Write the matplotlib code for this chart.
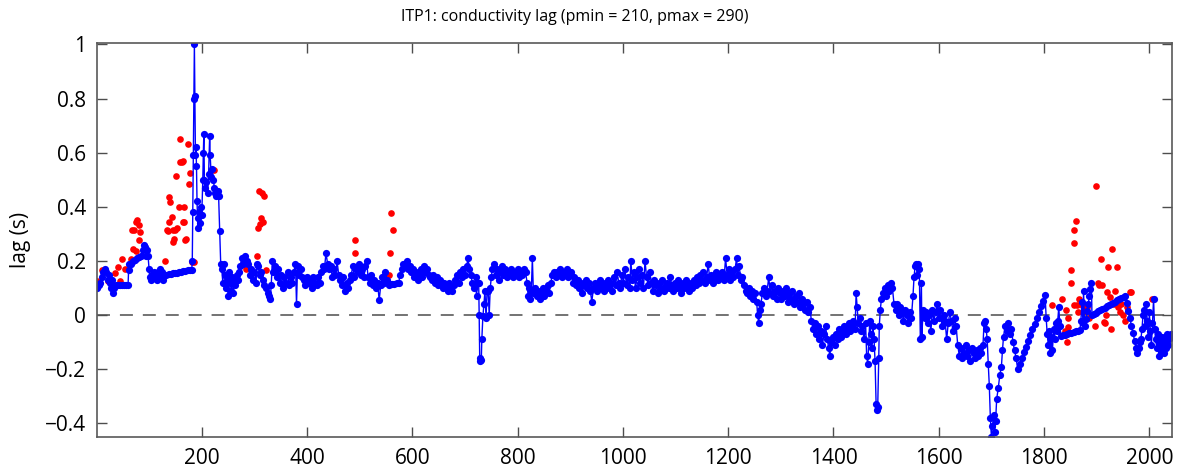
import numpy as np
import matplotlib.pyplot as plt

plt.rcParams['font.family'] = ['Open Sans', 'DejaVu Sans']

# cleaned lag series (blue)
profile = [
    1, 4, 7, 10, 13, 16, 19, 22, 24, 26, 28, 30, 32, 34, 37,
    41, 45, 49, 53, 57, 60, 61, 62, 65, 69, 73, 77, 81, 85, 88,
    90, 92, 94, 96, 98, 100, 101, 103, 105, 107, 109, 111, 113, 115, 117,
    119, 121, 123, 125, 127, 129, 133, 137, 141, 145, 149, 153, 157, 161, 165,
    169, 173, 177, 181, 182, 183, 184, 185, 186, 187, 188, 189, 190, 191, 192,
    193, 194, 196, 198, 200, 202, 203, 204, 205, 207, 209, 211, 213, 215, 216,
    218, 220, 222, 224, 226, 228, 230, 232, 234, 236, 238, 240, 242, 244, 246,
    248, 250, 252, 254, 256, 258, 260, 262, 264, 266, 268, 270, 273, 276, 279,
    282, 285, 288, 291, 294, 297, 300, 303, 305, 307, 310, 313, 316, 319, 322,
    325, 328, 330, 332, 334, 336, 339, 342, 345, 348, 351, 354, 357, 360, 363,
    366, 369, 372, 375, 378, 380, 382, 385, 388, 391, 394, 397, 400, 403, 406,
    409, 412, 415, 418, 421, 424, 427, 430, 433, 436, 439, 442, 445, 448, 451,
    454, 457, 460, 463, 466, 469, 472, 475, 478, 481, 484, 487, 490, 493, 496,
    499, 502, 505, 508, 511, 513, 516, 519, 522, 525, 528, 531, 534, 537, 540,
    543, 546, 549, 552, 555, 558, 562, 566, 570, 574, 577, 580, 583, 586, 589,
    592, 595, 598, 601, 604, 607, 610, 613, 616, 619, 622, 625, 628, 631, 634,
    637, 640, 643, 646, 649, 652, 655, 658, 661, 664, 667, 670, 673, 676, 679,
    682, 685, 688, 691, 694, 697, 700, 703, 706, 708, 711, 714, 717, 720, 722,
    724, 726, 727, 728, 729, 731, 732, 734, 736, 738, 740, 742, 744, 746, 748,
    750, 752, 755, 758, 761, 764, 767, 770, 773, 776, 779, 782, 785, 788, 791,
    794, 797, 800, 803, 806, 809, 812, 815, 818, 820, 822, 824, 826, 828, 830,
    833, 836, 839, 842, 845, 848, 851, 854, 857, 860, 863, 866, 869, 872, 875,
    878, 881, 884, 887, 890, 893, 896, 899, 902, 905, 908, 911, 914, 917, 920,
    923, 926, 929, 932, 935, 938, 941, 944, 947, 950, 953, 956, 959, 962, 965,
    968, 971, 974, 977, 980, 983, 986, 989, 992, 995, 998, 1001, 1004, 1007, 1010,
    1013, 1015, 1018, 1021, 1024, 1027, 1030, 1033, 1036, 1039, 1042, 1045, 1048, 1051, 1054,
    1057, 1060, 1063, 1066, 1069, 1072, 1075, 1078, 1081, 1084, 1087, 1090, 1093, 1096, 1099,
    1102, 1105, 1108, 1111, 1114, 1117, 1120, 1123, 1126, 1129, 1132, 1135, 1138, 1141, 1144,
    1147, 1150, 1153, 1156, 1159, 1162, 1165, 1168, 1171, 1174, 1177, 1180, 1183, 1186, 1189,
    1192, 1195, 1198, 1201, 1204, 1207, 1210, 1213, 1216, 1218, 1221, 1224, 1227, 1230, 1233,
    1236, 1239, 1242, 1245, 1248, 1251, 1254, 1256, 1258, 1260, 1262, 1265, 1268, 1271, 1274,
    1277, 1280, 1283, 1286, 1289, 1292, 1295, 1298, 1301, 1304, 1307, 1310, 1313, 1316, 1319,
    1322, 1325, 1328, 1331, 1334, 1337, 1340, 1343, 1346, 1349, 1352, 1355, 1358, 1361, 1364,
    1367, 1370, 1373, 1376, 1379, 1382, 1385, 1388, 1391, 1393, 1396, 1399, 1402, 1405, 1408,
    1411, 1414, 1417, 1420, 1423, 1426, 1429, 1432, 1435, 1438, 1441, 1443, 1445, 1447, 1450,
    1452, 1455, 1458, 1461, 1463, 1465, 1467, 1469, 1471, 1473, 1475, 1477, 1479, 1481, 1482,
    1484, 1486, 1487, 1489, 1491, 1494, 1497, 1500, 1503, 1506, 1509, 1512, 1515, 1518, 1521,
    1524, 1527, 1530, 1533, 1536, 1539, 1542, 1545, 1548, 1551, 1553, 1555, 1557, 1559, 1561,
    1563, 1565, 1567, 1568, 1570, 1573, 1576, 1579, 1582, 1585, 1588, 1591, 1594, 1597, 1600,
    1603, 1606, 1609, 1612, 1615, 1618, 1621, 1624, 1627, 1630, 1633, 1636, 1639, 1642, 1645,
    1648, 1651, 1654, 1657, 1660, 1663, 1666, 1669, 1672, 1675, 1678, 1681, 1684, 1686, 1688,
    1690, 1692, 1694, 1696, 1698, 1700, 1702, 1704, 1706, 1708, 1710, 1713, 1716, 1719, 1721,
    1723, 1726, 1729, 1732, 1735, 1738, 1741, 1744, 1747, 1750, 1754, 1758, 1762, 1766, 1770,
    1774, 1778, 1782, 1786, 1790, 1794, 1798, 1802, 1804, 1806, 1808, 1810, 1812, 1814, 1816,
    1818, 1820, 1822, 1824, 1826, 1828, 1830, 1832, 1836, 1840, 1844, 1848, 1852, 1856, 1860,
    1864, 1868, 1870, 1872, 1874, 1875, 1877, 1880, 1882, 1884, 1886, 1888, 1890, 1891, 1895,
    1899, 1903, 1907, 1911, 1915, 1919, 1923, 1927, 1931, 1935, 1939, 1943, 1947, 1951, 1954,
    1957, 1960, 1963, 1966, 1969, 1972, 1975, 1977, 1980, 1982, 1984, 1986, 1988, 1990, 1992,
    1994, 1996, 1998, 2000, 2002, 2004, 2006, 2008, 2010, 2012, 2014, 2016, 2018, 2020, 2022,
    2024, 2026, 2028, 2030, 2032, 2034, 2036, 2038, 2040, 2042,
]
lag = [
    0.10, 0.11, 0.12, 0.14, 0.16, 0.17, 0.16, 0.13, 0.15, 0.12, 0.10, 0.13, 0.08, 0.10, 0.11,
    0.11, 0.11, 0.11, 0.11, 0.11, 0.11, 0.165, 0.19, 0.19, 0.20, 0.205, 0.21, 0.215, 0.22, 0.24,
    0.26, 0.25, 0.22, 0.24, 0.22, 0.17, 0.14, 0.13, 0.15, 0.14, 0.16, 0.14, 0.15, 0.13, 0.16,
    0.15, 0.17, 0.14, 0.16, 0.13, 0.15, 0.150, 0.151, 0.153, 0.154, 0.156, 0.157, 0.159, 0.160, 0.162,
    0.163, 0.165, 0.166, 0.168, 0.20, 0.38, 0.59, 0.80, 1.00, 0.81, 0.59, 0.62, 0.55, 0.42, 0.36,
    0.32, 0.38, 0.34, 0.40, 0.37, 0.50, 0.60, 0.67, 0.50, 0.47, 0.49, 0.45, 0.52, 0.66, 0.59,
    0.51, 0.54, 0.50, 0.47, 0.45, 0.44, 0.46, 0.44, 0.31, 0.19, 0.17, 0.12, 0.19, 0.15, 0.10,
    0.13, 0.07, 0.16, 0.12, 0.09, 0.14, 0.08, 0.13, 0.11, 0.15, 0.13, 0.16, 0.18, 0.21, 0.19,
    0.22, 0.20, 0.19, 0.15, 0.17, 0.13, 0.16, 0.12, 0.19, 0.18, 0.15, 0.16, 0.13, 0.11, 0.10,
    0.08, 0.07, 0.06, 0.11, 0.20, 0.16, 0.18, 0.14, 0.17, 0.12, 0.15, 0.10, 0.14, 0.12, 0.16,
    0.11, 0.14, 0.12, 0.16, 0.19, 0.04, 0.18, 0.15, 0.17, 0.14, 0.13, 0.11, 0.14, 0.12, 0.13,
    0.10, 0.14, 0.12, 0.11, 0.14, 0.12, 0.16, 0.18, 0.17, 0.23, 0.19, 0.17, 0.18, 0.14, 0.17,
    0.15, 0.20, 0.15, 0.13, 0.11, 0.14, 0.09, 0.12, 0.10, 0.13, 0.15, 0.18, 0.14, 0.17, 0.16,
    0.19, 0.15, 0.17, 0.14, 0.18, 0.20, 0.14, 0.12, 0.15, 0.11, 0.13, 0.10, 0.12, 0.055, 0.11,
    0.14, 0.12, 0.16, 0.13, 0.11, 0.115, 0.115, 0.115, 0.12, 0.12, 0.15, 0.17, 0.19, 0.18, 0.20,
    0.17, 0.18, 0.16, 0.17, 0.14, 0.16, 0.13, 0.15, 0.17, 0.14, 0.18, 0.16, 0.17, 0.15, 0.14,
    0.13, 0.15, 0.12, 0.14, 0.11, 0.13, 0.12, 0.10, 0.12, 0.11, 0.09, 0.12, 0.10, 0.09, 0.11,
    0.13, 0.15, 0.12, 0.16, 0.14, 0.17, 0.15, 0.18, 0.21, 0.17, 0.15, 0.12, 0.10, 0.14, 0.07,
    0.12, 0.12, 0.00, -0.16, -0.17, -0.165, -0.09, -0.005, 0.04, 0.09, -0.01, 0.09, 0.09, 0.00, 0.10,
    0.14, 0.17, 0.19, 0.15, 0.17, 0.13, 0.16, 0.18, 0.15, 0.17, 0.14, 0.16, 0.15, 0.17, 0.14,
    0.16, 0.15, 0.17, 0.14, 0.16, 0.15, 0.17, 0.16, 0.12, 0.07, 0.10, 0.06, 0.09, 0.21, 0.08,
    0.10, 0.07, 0.09, 0.06, 0.08, 0.10, 0.07, 0.09, 0.11, 0.08, 0.12, 0.15, 0.16, 0.14, 0.16,
    0.15, 0.17, 0.14, 0.16, 0.15, 0.17, 0.14, 0.15, 0.16, 0.12, 0.14, 0.11, 0.13, 0.10, 0.12,
    0.08, 0.11, 0.13, 0.10, 0.12, 0.09, 0.05, 0.10, 0.12, 0.09, 0.11, 0.13, 0.10, 0.12, 0.09,
    0.11, 0.13, 0.10, 0.12, 0.09, 0.14, 0.11, 0.16, 0.12, 0.10, 0.15, 0.12, 0.17, 0.11, 0.14,
    0.10, 0.20, 0.13, 0.16, 0.10, 0.14, 0.17, 0.12, 0.15, 0.10, 0.20, 0.14, 0.11, 0.16, 0.12,
    0.09, 0.13, 0.11, 0.08, 0.12, 0.10, 0.13, 0.09, 0.11, 0.12, 0.10, 0.14, 0.11, 0.09, 0.12,
    0.10, 0.13, 0.11, 0.08, 0.12, 0.10, 0.13, 0.11, 0.09, 0.12, 0.10, 0.13, 0.11, 0.14, 0.12,
    0.15, 0.13, 0.16, 0.12, 0.14, 0.19, 0.13, 0.15, 0.12, 0.14, 0.16, 0.13, 0.15, 0.14, 0.16,
    0.13, 0.21, 0.15, 0.17, 0.13, 0.16, 0.14, 0.17, 0.21, 0.15, 0.18, 0.13, 0.14, 0.11, 0.09,
    0.08, 0.10, 0.07, 0.09, 0.06, 0.08, 0.05, 0.00, -0.03, 0.02, 0.04, 0.08, 0.10, 0.07, 0.09,
    0.14, 0.08, 0.11, 0.07, 0.09, 0.06, 0.10, 0.08, 0.06, 0.09, 0.07, 0.10, 0.05, 0.08, 0.06,
    0.09, 0.04, 0.07, 0.05, 0.08, 0.03, 0.06, 0.04, 0.02, 0.05, 0.01, 0.03, -0.02, -0.05, -0.03,
    -0.07, -0.04, -0.09, -0.06, -0.11, -0.07, -0.04, -0.09, -0.12, -0.15, -0.10, -0.08, -0.11, -0.07, -0.09,
    -0.05, -0.08, -0.06, -0.04, -0.07, -0.05, -0.03, -0.06, -0.04, -0.02, -0.05, 0.08, 0.03, -0.03, -0.01,
    -0.06, -0.04, -0.09, -0.03, -0.15, -0.18, -0.10, -0.02, -0.07, -0.12, -0.04, -0.09, -0.17, -0.33, -0.35,
    -0.34, -0.16, -0.04, 0.02, 0.06, 0.08, 0.10, 0.07, 0.11, 0.09, 0.12, 0.10, 0.04, 0.02, 0.04,
    0.00, 0.03, 0.01, -0.02, 0.02, 0.00, -0.03, 0.01, -0.01, 0.07, 0.14, 0.18, 0.19, 0.15, 0.19,
    0.17, -0.09, 0.12, -0.08, 0.02, -0.01, 0.01, -0.03, 0.00, -0.06, 0.02, -0.02, 0.01, 0.04, -0.01,
    0.02, -0.04, 0.00, -0.02, -0.09, -0.03, 0.01, -0.02, -0.06, -0.01, -0.04, -0.11, -0.15, -0.12, -0.16,
    -0.14, -0.11, -0.15, -0.13, -0.17, -0.12, -0.14, -0.16, -0.13, -0.15, -0.12, -0.14, -0.11, -0.03, -0.02,
    -0.05, -0.09, -0.18, -0.26, -0.38, -0.45, -0.41, -0.37, -0.43, -0.39, -0.31, -0.27, -0.22, -0.19, -0.13,
    -0.08, -0.04, -0.06, -0.03, -0.07, -0.05, -0.10, -0.13, -0.16, -0.20, -0.179, -0.158, -0.137, -0.116, -0.095,
    -0.074, -0.053, -0.031, -0.010, 0.011, 0.032, 0.053, 0.074, -0.01, -0.07, -0.11, -0.06, -0.14, -0.08, -0.13,
    -0.05, -0.09, -0.03, -0.06, -0.02, 0.03, -0.04, -0.077, -0.075, -0.072, -0.070, -0.067, -0.065, -0.062, -0.060,
    -0.057, -0.055, -0.02, 0.05, -0.03, 0.09, -0.04, -0.015, 0.015, 0.04, 0.07, 0.095, 0.12, 0.0, 0.005,
    0.009, 0.014, 0.018, 0.023, 0.027, 0.032, 0.037, 0.041, 0.046, 0.050, 0.055, 0.059, 0.064, 0.068, 0.072,
    0.044, 0.017, -0.011, -0.039, -0.066, -0.094, -0.12, -0.14, -0.12, -0.10, -0.09, -0.05, 0.00, 0.02, -0.04,
    0.04, -0.02, -0.08, 0.01, -0.06, -0.11, -0.03, 0.06, -0.05, -0.09, -0.12, -0.07, -0.15, -0.10, -0.13,
    -0.08, -0.11, -0.14, -0.09, -0.12, -0.07, -0.11, -0.09, -0.08, -0.07,
]

# rejected raw values (red dots)
out_profile = [
    1, 10, 21, 27, 35, 40, 44, 49, 54, 66, 68, 70, 72, 75, 75, 77, 80, 80, 83,
    130, 134, 136, 137, 138, 140, 143, 146, 146, 148, 150, 151, 153, 156, 158,
    159.5, 163, 164, 165, 166, 167, 168, 170, 173, 175, 177, 181, 186, 224,
    284, 305, 306, 308, 311, 313, 314, 317, 319, 322,
    492, 492, 556, 558, 560, 563,
    1815, 1835, 1839, 1841, 1844, 1845, 1846, 1851, 1852, 1856, 1856, 1857,
    1860, 1862, 1865, 1867, 1870, 1874, 1878, 1882, 1885, 1897, 1899, 1902,
    1905, 1908, 1910, 1913, 1916, 1918, 1920, 1922, 1925, 1927, 1930, 1932,
    1934, 1938, 1941, 1944, 1947, 1950, 1954, 1957, 1963, 1966, 2006,
]
out_lag = [
    0.127, 0.168, 0.125, 0.13, 0.154, 0.178, 0.125, 0.207, 0.17, 0.209, 0.316, 0.246, 0.316, 0.237, 0.344, 0.35, 0.332, 0.279, 0.307,
    0.20, 0.314, 0.311, 0.344, 0.437, 0.416, 0.363, 0.27, 0.314, 0.28, 0.316, 0.513, 0.32, 0.40, 0.566,
    0.652, 0.566, 0.57, 0.344, 0.344, 0.40, 0.279, 0.28, 0.633, 0.486, 0.525, 0.197, 0.197, 0.535,
    0.17, 0.218, 0.32, 0.46, 0.338, 0.357, 0.45, 0.345, 0.44, 0.168,
    0.277, 0.228, 0.15, 0.228, 0.376, 0.316,
    0.037, 0.058, -0.06, 0.018, -0.10, -0.01, -0.043, 0.168, 0.117, 0.267, 0.037, 0.316,
    0.347, 0.037, 0.012, 0.06, 0.04, 0.035, 0.015, 0.03, -0.01, -0.04, 0.476, 0.117,
    0.11, 0.207, 0.11, -0.025, -0.03, 0.0, 0.086, 0.176, 0.068, -0.053, 0.246, 0.04,
    0.09, 0.176, 0.03, 0.01, 0.04, 0.0, -0.02, 0.03, 0.086, 0.086, 0.058,
]

xticks = [200, 400, 600, 800, 1000, 1200, 1400, 1600, 1800, 2000]
yticks = [-0.4, -0.2, 0, 0.2, 0.4, 0.6, 0.8, 1]

fig = plt.figure(figsize=(11.8, 4.74), dpi=100)
ax = fig.add_axes([0.0822, 0.0781, 0.9110, 0.8312])

ax.plot(out_profile, out_lag, 'o', color='#ff0000', ms=4.8, mec='none')
ax.plot(profile, lag, '-o', color='#0000ff', lw=1.0, ms=5.2, mec='none')
ax.axhline(0, color='0.3', lw=1.1, ls=(0, (8.5, 6.5)), zorder=0)

ax.set_xlim(1, 2043)
ax.set_ylim(-0.45, 1.005)
ax.set_xticks(xticks)
ax.set_yticks(yticks)
ax.set_yticklabels(['\u22120.4', '\u22120.2', '0', '0.2', '0.4', '0.6', '0.8', '1'])
ax.tick_params(direction='in', length=7, width=1, top=True, right=True,
               labelsize=15, pad=8, color='0.3')
for s in ax.spines.values():
    s.set_color('0.35')
    s.set_linewidth(1.2)

ax.set_ylabel('lag (s)', fontsize=15, labelpad=10)
fig.text(0.487, 1 - 17 / 474, 'ITP1: conductivity lag (pmin = 210, pmax = 290)',
         ha='center', va='center', fontsize=11.5)

fig.savefig('out.png', dpi=100)
